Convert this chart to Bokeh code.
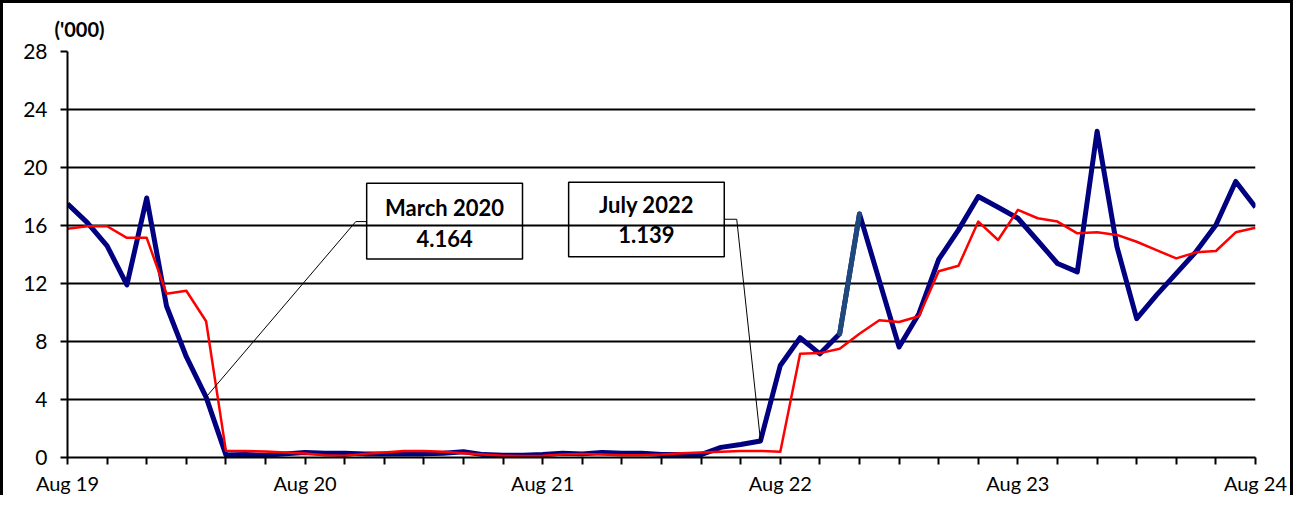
from bokeh.plotting import figure
from bokeh.models import Range1d, FixedTicker, Label, BoxAnnotation
from bokeh.embed import file_html
from bokeh.resources import INLINE

# ---------------- data (monthly, Aug 2019 .. Aug 2024, thousands) ----------------
months = list(range(61))  # month index, 0 = Aug 2019
year_ticks = [0, 12, 24, 36, 48, 60]
year_labels = ["Aug 19", "Aug 20", "Aug 21", "Aug 22", "Aug 23", "Aug 24"]
y_ticks = [0, 4, 8, 12, 16, 20, 24, 28]

blue = [17.5, 16.2, 14.6, 11.9, 17.9, 10.45, 6.95, 4.164, 0.18, 0.2,
        0.15, 0.25, 0.35, 0.3, 0.3, 0.25, 0.25, 0.25, 0.25, 0.3,
        0.4, 0.2, 0.15, 0.15, 0.2, 0.3, 0.25, 0.35, 0.3, 0.3,
        0.2, 0.2, 0.2, 0.7, 0.9, 1.139, 6.35, 8.26, 7.15, 8.54,
        16.8, 12.2, 7.62, 9.92, 13.66, 15.7, 18.0, 17.26, 16.5, 14.95,
        13.38, 12.8, 22.5, 14.54, 9.58, 11.2, 12.7, 14.2, 16.04, 19.04,
        17.26]

red = [15.77, 15.95, 15.95, 15.15, 15.15, 11.3, 11.5, 9.4, 0.46, 0.45,
       0.42, 0.35, 0.28, 0.15, 0.12, 0.25, 0.35, 0.45, 0.45, 0.4,
       0.3, 0.2, 0.12, 0.1, 0.12, 0.2, 0.25, 0.2, 0.15, 0.15,
       0.2, 0.3, 0.35, 0.4, 0.45, 0.45, 0.4, 7.15, 7.2, 7.5,
       8.54, 9.46, 9.35, 9.74, 12.85, 13.22, 16.27, 15.0, 17.08, 16.5,
       16.27, 15.46, 15.53, 15.35, 14.88, 14.3, 13.73, 14.15, 14.24, 15.53,
       15.85]

callout_idx = [7, 35]
callout_names = ["March 2020", "July 2022"]
highlight_seg = [39, 40]
unit_label = "('000)"

FONT = "Lato"

p = figure(width=1293, height=495,
           x_range=Range1d(0, 60), y_range=Range1d(0, 28),
           output_backend="svg", toolbar_location=None,
           min_border_left=64, min_border_top=48,
           min_border_right=41, min_border_bottom=41)
p.styles = {"border-left": "3px solid black",
            "border-top": "3px solid black",
            "border-right": "3px solid black"}
p.outline_line_color = None
p.background_fill_color = "white"
p.border_fill_color = "white"

# unit label as the title
p.title.text = unit_label
p.title.text_font = FONT
p.title.text_font_size = "20px"
p.title.text_font_style = "bold"
p.title.text_color = "black"
p.title.align = "left"
p.title.offset = -13
p.title.standoff = 22

# x axis
p.xaxis.ticker = FixedTicker(ticks=list(range(0, 61, 2)))
overrides = {t: "" for t in range(0, 61, 2)}
for t, lab in zip(year_ticks, year_labels):
    overrides[t] = lab
p.xaxis.major_label_overrides = overrides
p.xaxis.axis_line_color = "black"
p.xaxis.axis_line_width = 2
p.xaxis.major_tick_line_color = "black"
p.xaxis.major_tick_line_width = 2
p.xaxis.major_tick_in = 0
p.xaxis.major_tick_out = 7
p.xaxis.minor_tick_line_color = None
p.xaxis.major_label_text_font = FONT
p.xaxis.major_label_text_font_size = "20px"
p.xaxis.major_label_text_color = "black"
p.xaxis.major_label_standoff = 6

# y axis
p.yaxis.ticker = FixedTicker(ticks=y_ticks)
p.yaxis.axis_line_color = "black"
p.yaxis.axis_line_width = 2
p.yaxis.major_tick_line_color = "black"
p.yaxis.major_tick_line_width = 2
p.yaxis.major_tick_in = 0
p.yaxis.major_tick_out = 7
p.yaxis.minor_tick_line_color = None
p.yaxis.major_label_text_font = FONT
p.yaxis.major_label_text_font_size = "21px"
p.yaxis.major_label_text_color = "black"
p.yaxis.major_label_standoff = 13

p.xgrid.visible = False
p.ygrid.ticker = FixedTicker(ticks=y_ticks)
p.ygrid.grid_line_color = "black"
p.ygrid.grid_line_width = 2

# series
p.line(months, blue, line_color="#000080", line_width=5, line_join="round")
p.line([months[i] for i in highlight_seg], [blue[i] for i in highlight_seg],
       line_color="#1F497D", line_width=5, line_cap="round")
p.line(months, red, line_color="#FF0000", line_width=2.5, line_join="round")

# callouts (box extents in data units)
boxes = [(15.11, 22.98, 18.92, 13.69), (25.31, 33.17, 18.99, 13.85)]
title_y = [17.26, 17.44]
value_y = [15.12, 15.35]
for (l, r, t, b), idx, name, ty, vy in zip(boxes, callout_idx, callout_names, title_y, value_y):
    p.add_layout(BoxAnnotation(left=l, right=r, top=t, bottom=b,
                               fill_alpha=0, line_color="black", line_alpha=1,
                               line_width=1.5))
    cx = (l + r) / 2
    p.add_layout(Label(x=cx, y=ty, text=name, text_align="center", text_baseline="middle",
                       text_font=FONT, text_font_size="22px", text_font_style="bold",
                       text_color="black"))
    p.add_layout(Label(x=cx, y=vy, text=f"{blue[idx]:.3f}", text_align="center",
                       text_baseline="middle", text_font=FONT, text_font_size="22px",
                       text_font_style="bold", text_color="black"))

# leader lines
p.line([months[callout_idx[0]], 14.56, boxes[0][0]],
       [blue[callout_idx[0]], 16.27, 16.27], line_color="black", line_width=1)
p.line([boxes[1][1], 33.80, months[callout_idx[1]]],
       [16.43, 16.43, blue[callout_idx[1]]], line_color="black", line_width=1)

open("out.html", "w").write(file_html(p, INLINE))
